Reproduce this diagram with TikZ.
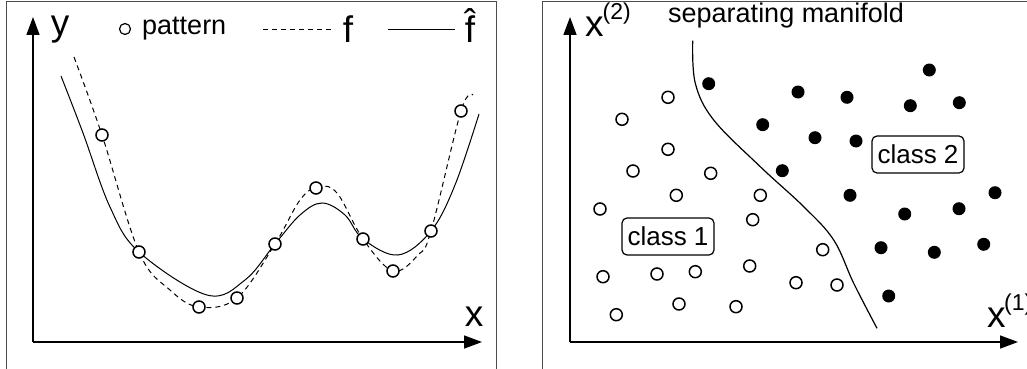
\documentclass[tikz,border=0pt]{standalone}
\usepackage{fontspec}
\setmainfont{Liberation Sans}
\usetikzlibrary{arrows.meta}
\tikzset{
  framec/.style={draw=black!70, line width=0.9pt},
  axisline/.style={line width=1.5pt, -{Triangle[length=18pt,width=13pt]}},
  opencirc/.style={circle, draw, line width=1.5pt, minimum size=12pt, inner sep=0pt, fill=white},
  fullcirc/.style={circle, fill=black, minimum size=13pt, inner sep=0pt},
  bigtxt/.style={font=\fontsize{37}{37}\selectfont, inner sep=0pt},
  smalltxt/.style={font=\fontsize{27}{27}\selectfont, inner sep=0pt},
  classbox/.style={draw, rounded corners=5pt, line width=1.2pt, font=\fontsize{26}{26}\selectfont, minimum width=92pt, minimum height=37pt, inner sep=0pt},
  fcurve/.style={line width=1pt, dash pattern=on 5pt off 4pt},
  fhcurve/.style={line width=1pt},
}
\begin{document}
\begin{tikzpicture}[x=1pt,y=-1pt]
\useasboundingbox (0,0) rectangle (1027,369);
% frames
\draw[framec] (6.5,369) -- (6.5,1.5) -- (496,1.5) -- (496,369);
\draw[framec] (542.5,369) -- (542.5,1.5) -- (1027,1.5);

% ---------- left panel ----------
\coordinate (o1) at (33,342);
\coordinate (ytip1) at (33,17);
\coordinate (xtip1) at (482,342);
\draw[axisline] (o1) -- (ytip1);
\draw[axisline] (o1) -- (xtip1);
\node[bigtxt, anchor=base] (ylab) at (60,36) {y};
\node[bigtxt, anchor=base] (xlab) at (474,326) {x};

% legend
\node[opencirc, minimum size=11pt, line width=1.2pt] (legc) at (125,29) {};
\node[smalltxt, anchor=base west] (legp) at (142,35) {pattern};
\coordinate (ld1) at (263,29);
\coordinate (ld2) at (333,29);
\draw[line width=0.9pt, dash pattern=on 5pt off 4pt] (ld1) -- (ld2);
\node[bigtxt, anchor=base] (legf) at (348,42) {f};
\coordinate (ls1) at (388,29);
\coordinate (ls2) at (455,29);
\draw[line width=0.9pt] (ls1) -- (ls2);
\node[bigtxt, anchor=base] (legfh) at (470,42) {\^{f}};

% curves
\draw[fcurve] plot[smooth, tension=0.6] coordinates {(74,57) (102,135) (139,252) (170,290) (199,307) (237,298) (275,244) (300,200) (318,187) (337,193) (363,239) (393,271) (418,255) (431,231) (461,111) (473,95)};
\draw[fhcurve] plot[smooth, tension=0.6] coordinates {(61,76) (83,133) (110,207) (139,252) (207,295) (245,280) (275,244) (300,215) (322,203) (345,215) (363,239) (398,255) (431,231) (455,185) (479,114)};

% patterns
\foreach \n/\px/\py in {1/102/135, 2/139/252, 3/199/307, 4/237/298, 5/275/244, 6/316/188, 7/363/239, 8/393/271, 9/431/231, 10/461/111}
  \node[opencirc] (lp\n) at (\px,\py) {};

% ---------- right panel ----------
\coordinate (o2) at (570,342);
\coordinate (ytip2) at (570,17);
\coordinate (xtip2) at (1018,342);
\draw[axisline] (o2) -- (ytip2);
\draw[axisline] (o2) -- (xtip2);
\node[bigtxt, anchor=base west] (x2lab) at (585,37) {x\kern-1pt\raisebox{17pt}{\fontsize{23}{23}\selectfont (2)}};
\node[bigtxt, anchor=base west] (x1lab) at (987,327) {x\kern-1.5pt\raisebox{17pt}{\fontsize{23}{23}\selectfont (1)}};
\node[smalltxt, anchor=base west] (sep) at (668,22.5) {separating manifold};

\draw[line width=1.2pt] plot[smooth, tension=0.6] coordinates {(692.7,40.7) (695.3,83.3) (713.7,120) (760.3,166.7) (803.7,206.7) (833.7,240) (853.7,283.3) (877,328.3)};

\foreach \n/\px/\py in {1/668/97.3, 2/622/119.3, 3/668/149.3, 4/633/171, 5/710.7/173.3, 6/676.3/195.3, 7/760.3/195.3, 8/600/209, 9/752.7/219.7, 10/822.7/249.7, 11/603/276.7, 12/657/274, 13/695.3/271.7, 14/749.7/266, 15/796/282.7, 16/837/285, 17/616.3/314.7, 18/679/304, 19/736/306.7}
  \node[opencirc] (oc\n) at (\px,\py) {};
\foreach \n/\px/\py in {1/708.7/83.7, 2/798/92, 3/847/97.3, 4/929.3/70, 5/910.3/105.7, 6/959.3/102.7, 7/762.7/124.7, 8/815/137.7, 9/856/141, 10/782.3/170.7, 11/850/195.3, 12/995/192.7, 13/904.7/214, 14/959/208.7, 15/881/247.7, 16/934.3/252.3, 17/983.7/244.3, 18/888.7/296}
  \node[fullcirc] (fc\n) at (\px,\py) {};

\node[classbox] (c1) at (668,236.5) {class 1};
\node[classbox] (c2) at (918,154.5) {class 2};
\end{tikzpicture}
\end{document}
